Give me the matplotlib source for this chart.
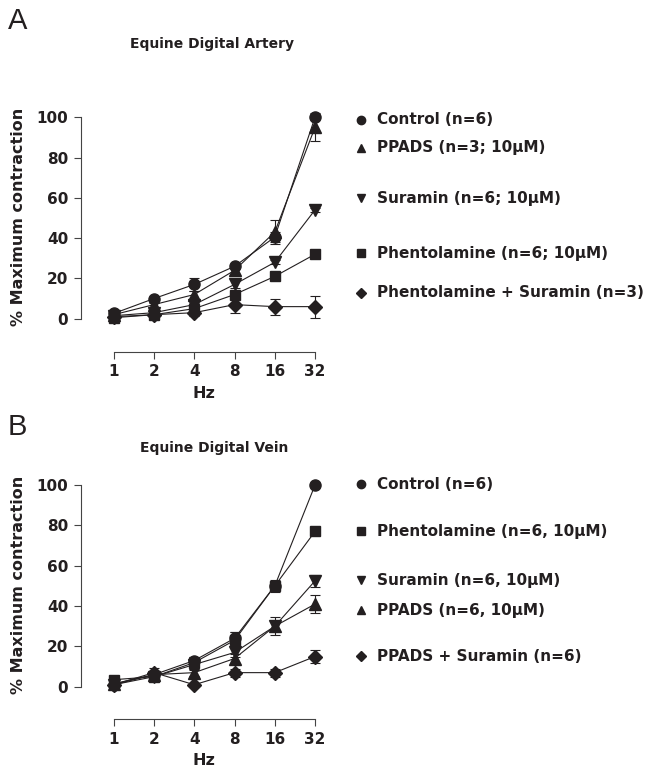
import numpy as np
import matplotlib
matplotlib.use('Agg')
import matplotlib.pyplot as plt

plt.rcParams['font.family'] = ['DejaVu Sans']

hz = [1, 2, 4, 8, 16, 32]
hz_labels = ['1', '2', '4', '8', '16', '32']

# Panel A - equine digital artery
a_labels = ['Control (n=6)', 'PPADS (n=3; 10\u00b5M)', 'Suramin (n=6; 10\u00b5M)',
            'Phentolamine (n=6; 10\u00b5M)', 'Phentolamine + Suramin (n=3)']
a_markers = ['o', '^', 'v', 's', 'D']
a_control = [2.6, 10, 17, 26, 40.5, 100]
a_control_err = [1, 1, 3, 1, 2.5, 0]
a_ppads = [2, 7, 12, 24, 43, 95]
a_ppads_err = [1, 1, 2, 2, 6, 7]
a_suramin = [1.5, 3, 7, 17, 28, 54]
a_suramin_err = [0.5, 1, 1, 2, 1, 1]
a_phent = [0.5, 2, 5, 12, 21, 32]
a_phent_err = [0.5, 0.5, 1, 1.5, 1, 1]
a_phsur = [1, 2, 3, 7, 6, 6]
a_phsur_err = [0.5, 0.5, 1.5, 4, 4, 5.5]

# Panel B - equine digital vein
b_labels = ['Control (n=6)', 'Phentolamine (n=6, 10\u00b5M)', 'Suramin (n=6, 10\u00b5M)',
            'PPADS (n=6, 10\u00b5M)', 'PPADS + Suramin (n=6)']
b_markers = ['o', 's', 'v', '^', 'D']
b_control = [1, 6, 13, 24, 50, 100]
b_control_err = [0.5, 1, 2, 3, 2, 0]
b_phent = [3.5, 5, 12, 23, 50, 77]
b_phent_err = [0.5, 1, 3, 4, 3, 1]
b_suramin = [1, 5, 11, 17, 30, 52.5]
b_suramin_err = [0.5, 1, 2, 2, 2, 3]
b_ppads = [1.5, 6, 7, 14, 30, 41]
b_ppads_err = [0.5, 1.5, 1.5, 2, 4.5, 4.5]
b_phsur = [1, 7, 1, 7, 7, 15]
b_phsur_err = [0.5, 2.5, 0.5, 2, 2, 3]

# legend label heights (in % units) as laid out in the figure
a_leg_y = [98.7, 84.8, 59.9, 32.6, 12.8]
b_leg_y = [100.5, 77.2, 52.9, 38, 15.2]

ink = '#231f20'
msize = {'o': 8, '^': 8, 'v': 8, 's': 7.5, 'D': 7}
fig = plt.figure(figsize=(6.52, 7.78), dpi=100)


def panel(rect, series, errs, markers, labels, leg_y, ybot):
    ax = fig.add_axes(rect)
    x = np.log2(hz)
    for y, e, m in zip(series, errs, markers):
        ax.errorbar(x, y, yerr=e, color=ink, marker=m, ms=msize[m],
                    lw=0.8, elinewidth=0.8, capsize=3.5, capthick=0.8, clip_on=False)
    ax.set_xlim(-0.82, 5.3)
    ax.set_ylim(ybot, 105)
    for s in ['top', 'right']:
        ax.spines[s].set_visible(False)
    ax.spines['left'].set_bounds(0, 100)
    ax.spines['bottom'].set_bounds(0, 5)
    ax.spines['left'].set_color('#444444')
    ax.spines['bottom'].set_color('#444444')
    ax.set_xticks(x)
    ax.set_xticklabels(hz_labels)
    ax.set_yticks([0, 20, 40, 60, 80, 100])
    ax.tick_params(colors='#444444', labelcolor=ink, length=5, width=0.8, pad=4,
                   labelsize=11)
    for t in ax.get_xticklabels() + ax.get_yticklabels():
        t.set_fontweight('bold')
    ax.set_xlabel('Hz', fontsize=11.5, fontweight='bold', color=ink, labelpad=5)
    ax.set_ylabel('% Maximum contraction', fontsize=11.5, fontweight='bold', color=ink)
    ax.yaxis.set_label_coords(-0.224, 0.55)
    for yy, m, lab in zip(leg_y, markers, labels):
        ax.plot(6.14, yy, marker=m, color=ink, ms=6 if m != 'D' else 5.5, clip_on=False)
        ax.text(6.53, yy, lab, fontsize=11, fontweight='bold', color=ink,
                va='center', ha='left', clip_on=False)
    return ax


panel([0.1238, 0.5476, 0.3779, 0.3147],
      [a_control, a_ppads, a_suramin, a_phent, a_phsur],
      [a_control_err, a_ppads_err, a_suramin_err, a_phent_err, a_phsur_err],
      a_markers, a_labels, a_leg_y, -16.5)
panel([0.1238, 0.0758, 0.3779, 0.3137],
      [b_control, b_phent, b_suramin, b_ppads, b_phsur],
      [b_control_err, b_phent_err, b_suramin_err, b_ppads_err, b_phsur_err],
      b_markers, b_labels, b_leg_y, -16.0)

fig.text(8 / 652, 1 - 21 / 778, 'A', fontsize=21, color=ink, va='center', ha='left',
         family='Liberation Sans')
fig.text(212 / 652, 1 - 44 / 778, 'Equine Digital Artery', fontsize=10,
         fontweight='bold', color=ink, va='center', ha='center')
fig.text(8 / 652, 1 - 427 / 778, 'B', fontsize=21, color=ink, va='center', ha='left',
         family='Liberation Sans')
fig.text(214 / 652, 1 - 448 / 778, 'Equine Digital Vein', fontsize=10,
         fontweight='bold', color=ink, va='center', ha='center')

fig.savefig('out.png', dpi=100, facecolor='white')
